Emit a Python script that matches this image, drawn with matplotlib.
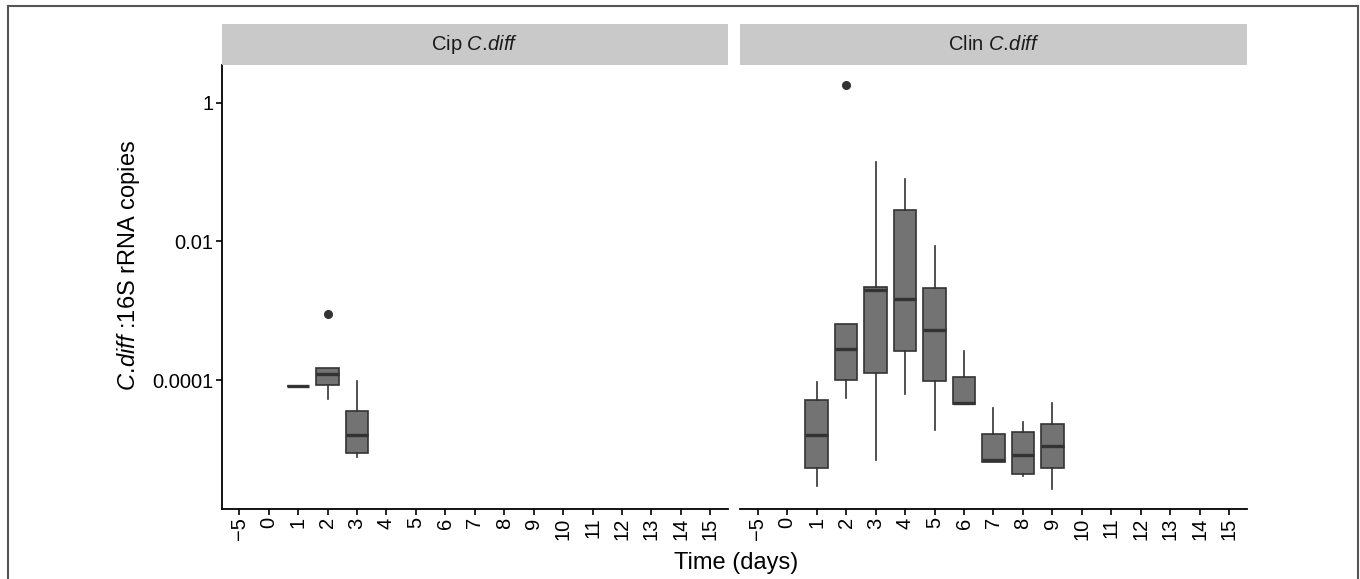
import matplotlib
matplotlib.use("Agg")
import matplotlib.pyplot as plt
import numpy as np
from matplotlib.lines import Line2D
from matplotlib.ticker import NullLocator

plt.rcParams['font.family'] = ['Liberation Sans', 'DejaVu Sans']
plt.rcParams['mathtext.fontset'] = 'custom'
plt.rcParams['mathtext.rm'] = 'Liberation Sans'
plt.rcParams['mathtext.it'] = 'Liberation Sans:italic'

# ---------------- data ----------------
days = ['\u22125', '0', '1', '2', '3', '4', '5', '6', '7', '8', '9',
        '10', '11', '12', '13', '14', '15']
panel_titles = ['Cip $\\mathit{C.\\!diff}$', 'Clin $\\mathit{C.\\!diff}$']

cip_days = ['1', '2', '3']
cip_whislo = [8.3e-5, 5.4e-5, 7.7e-6]
cip_q1 = [8.3e-5, 8.4e-5, 9.0e-6]
cip_med = [8.3e-5, 1.21e-4, 1.6e-5]
cip_q3 = [8.3e-5, 1.5e-4, 3.6e-5]
cip_whishi = [8.3e-5, 1.5e-4, 9.6e-5]
cip_fliers = [[], [9.0e-4], []]

clin_days = ['1', '2', '3', '4', '5', '6', '7', '8', '9']
clin_whislo = [3.0e-6, 5.5e-5, 7.1e-6, 6.4e-5, 1.88e-5, 4.5e-5, 6.6e-6, 4.2e-6, 2.7e-6]
clin_q1 = [5.4e-6, 1.0e-4, 1.26e-4, 2.6e-4, 9.8e-5, 4.5e-5, 6.6e-6, 4.4e-6, 5.4e-6]
clin_med = [1.63e-5, 2.8e-4, 2.0e-3, 1.49e-3, 5.2e-4, 4.7e-5, 7.0e-6, 8.3e-6, 1.12e-5]
clin_q3 = [5.1e-5, 6.5e-4, 2.23e-3, 2.81e-2, 2.15e-3, 1.1e-4, 1.67e-5, 1.76e-5, 2.33e-5]
clin_whishi = [9.4e-5, 6.5e-4, 1.4e-1, 8.1e-2, 8.7e-3, 2.6e-4, 3.9e-5, 2.5e-5, 4.7e-5]
clin_fliers = [[], [1.8], [], [], [], [], [], [], []]

y_ticks = [1, 0.01, 0.0001]
y_ticklabels = ['1', '0.01', '0.0001']

# ---------------- layout ----------------
W, H = 1360, 579
fig = plt.figure(figsize=(W / 100, H / 100), dpi=100)
fig.patch.set_facecolor('white')

def fx(px):
    return px / W

def fy(py):
    return 1 - py / H

ax_top, ax_bot = 65, 509
strip_top = 24
panels = [(221.5, 506.5), (740, 507)]

series = [
    (cip_days, cip_whislo, cip_q1, cip_med, cip_q3, cip_whishi, cip_fliers),
    (clin_days, clin_whislo, clin_q1, clin_med, clin_q3, clin_whishi, clin_fliers),
]

all_vals = np.concatenate([np.array(v, dtype=float).ravel() for s in series for v in s[1:6]]
                          + [np.array(sum(s[6], []), dtype=float) for s in series])
lo, hi = np.log10(all_vals.min()), np.log10(all_vals.max())
pad = 0.05 * (hi - lo)
ylim = (10 ** (lo - pad), 10 ** (hi + pad))

edge = '#333333'
fill = '#737373'

axes = []
for i, ((x0, w), s, title) in enumerate(zip(panels, series, panel_titles)):
    ax = fig.add_axes([fx(x0), fy(ax_bot), w / W, (ax_bot - ax_top) / H])
    axes.append(ax)
    dd, wlo, q1, med, q3, whi, fl = s
    stats = []
    for k in range(len(dd)):
        stats.append(dict(med=med[k], q1=q1[k], q3=q3[k], whislo=wlo[k],
                          whishi=whi[k], fliers=fl[k]))
    pos = [days.index(d) for d in dd]
    ax.bxp(stats, positions=pos, widths=0.77, patch_artist=True, showcaps=False,
           boxprops=dict(facecolor=fill, edgecolor=edge, linewidth=1.2),
           medianprops=dict(color=edge, linewidth=2.4, solid_capstyle='butt'),
           whiskerprops=dict(color=edge, linewidth=1.2),
           flierprops=dict(marker='o', markerfacecolor=edge, markeredgecolor=edge,
                           markersize=5.5))
    ax.set_yscale('log')
    ax.set_ylim(*ylim)
    ax.set_xlim(-0.6, len(days) - 1 + 0.6)
    ax.set_xticks(range(len(days)))
    ax.set_xticklabels(days, rotation=90, ha='center', va='top', fontsize=14.5)
    ax.yaxis.set_minor_locator(NullLocator())
    for sp in ['top', 'right']:
        ax.spines[sp].set_visible(False)
    ax.spines['bottom'].set_linewidth(1.3)
    ax.spines['left'].set_linewidth(1.3)
    ax.tick_params(axis='x', length=4, width=1.2, pad=2, color='black')
    if i == 0:
        ax.set_yticks(y_ticks)
        ax.set_yticklabels(y_ticklabels, fontsize=14.5)
        ax.tick_params(axis='y', length=4, width=1.2, pad=2)
    else:
        ax.spines['left'].set_visible(False)
        ax.set_yticks([])
    # strip
    sax = fig.add_axes([fx(x0), fy(ax_top), w / W, (ax_top - strip_top) / H])
    sax.set_facecolor('#c9c9c9')
    sax.set_xticks([])
    sax.set_yticks([])
    for sp in sax.spines.values():
        sp.set_visible(False)
    sax.text(0.5, 0.5, title, ha='center', va='center', fontsize=14.5,
             transform=sax.transAxes, color='#1a1a1a')

fig.text(fx(128), fy(265), '$\\mathit{C.\\!diff}$ :16S rRNA copies', rotation=90,
         ha='center', va='center', fontsize=17)
fig.text(fx(736), fy(563), 'Time (days)', ha='center', va='center', fontsize=17)

# outer frame
bc = '#555555'
fig.add_artist(Line2D([fx(7.5), fx(7.5)], [0, fy(6)], transform=fig.transFigure, color=bc, lw=1.5))
fig.add_artist(Line2D([fx(7.5), fx(1358)], [fy(6), fy(6)], transform=fig.transFigure, color=bc, lw=1.5))
fig.add_artist(Line2D([fx(1358), fx(1358)], [0, fy(6)], transform=fig.transFigure, color=bc, lw=1.5))

fig.savefig('out.png', dpi=100)
